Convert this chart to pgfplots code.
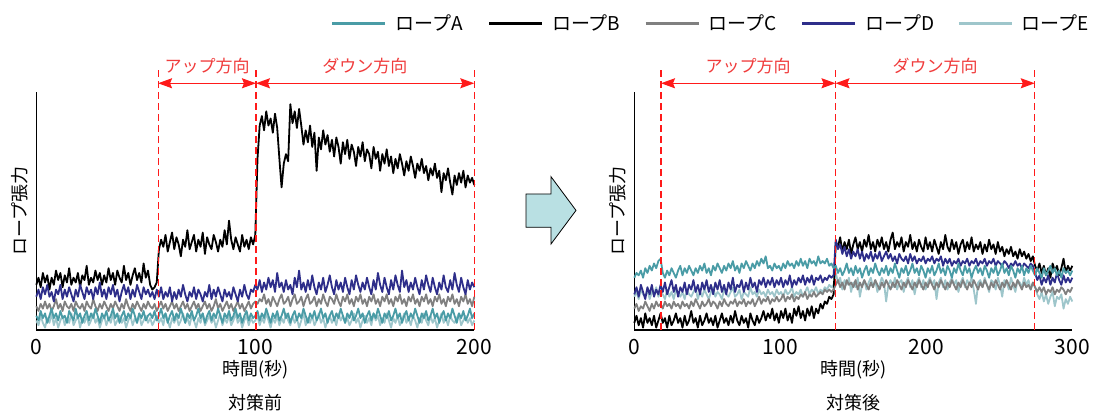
\documentclass[border=0pt]{standalone}
\usepackage{pgfplots}
\pgfplotsset{compat=1.18}
\usepackage{pgfplotstable}
\usepackage{fontspec}
\setmainfont{Noto Sans CJK JP}
\usetikzlibrary{arrows.meta}

\definecolor{ropeA}{HTML}{4A9CA6}
\definecolor{ropeB}{HTML}{000000}
\definecolor{ropeC}{HTML}{808080}
\definecolor{ropeD}{HTML}{2E2E8A}
\definecolor{ropeE}{HTML}{9EC6CB}
\definecolor{arrowfill}{HTML}{B9E0E3}
\definecolor{marker}{HTML}{FF1A1A}
\definecolor{labelred}{HTML}{F03C3C}

% before countermeasure (0-200 s)
\pgfplotstableread{
x A B C D E
0 6 19 10 14 4
1 4 22 8 17 2
2 8 18 11 13 6
3 5 24 9 18 3
4 7 20 12 15 1
5 3 23 9 19 5
6 6 17 11 14 3
7 9 22 8 16 7
8 5 19 10 12 2
9 7 25 13 17 5
10 4 21 9 15 1
11 8 24 11 19 4
12 5 18 8 13 6
13 6 23 12 17 2
14 3 20 10 14 5
15 8 26 9 18 3
16 6 19 11 15 7
17 4 22 8 12 2
18 9 20 12 17 4
19 5 24 10 14 6
20 7 18 9 19 1
21 3 23 11 16 5
22 6 21 8 13 3
23 8 27 12 18 6
24 4 19 10 15 2
25 7 22 9 17 4
26 5 20 13 13 7
27 9 25 10 18 3
28 6 21 8 15 5
29 3 24 11 20 1
30 7 19 9 14 4
31 5 23 12 17 6
32 8 20 10 13 2
33 4 26 8 18 5
34 6 21 11 15 3
35 9 24 9 19 7
36 5 19 12 14 2
37 7 25 10 17 4
38 3 22 8 12 6
39 6 20 11 16 3
40 8 27 9 19 5
41 4 21 13 15 1
42 7 24 10 18 4
43 5 19 8 13 6
44 9 23 11 17 2
45 6 26 9 14 5
46 3 21 12 19 3
47 7 24 10 16 7
48 5 20 8 13 2
49 8 28 11 18 4
50 4 22 9 15 6
51 6 25 12 17 3
52 7 19 10 14 5
53 5 17 9 16 2
54 8 18 11 13 4
55 4 20 8 17 6
56 6 34 10 14 3
57 9 38 12 18 5
58 5 35 9 13 2
59 7 40 11 16 7
60 3 33 8 14 4
61 6 37 10 18 1
62 8 41 12 12 5
63 4 34 9 16 3
64 7 39 11 13 6
65 5 36 8 17 2
66 9 31 10 14 4
67 6 38 12 19 7
68 3 35 9 15 3
69 7 42 11 12 5
70 5 34 8 16 2
71 8 37 10 14 6
72 4 40 12 18 4
73 6 33 9 13 1
74 9 38 11 17 5
75 5 35 8 15 3
76 7 41 10 12 7
77 3 32 12 16 2
78 6 39 9 14 4
79 8 36 11 19 6
80 4 34 8 13 3
81 7 40 10 17 5
82 5 37 13 14 1
83 9 33 9 18 4
84 6 38 11 15 7
85 3 35 8 12 2
86 7 42 10 17 5
87 5 36 12 14 3
88 8 46 9 16 6
89 4 38 11 13 2
90 6 34 8 18 4
91 9 39 10 15 7
92 5 36 12 12 3
93 7 33 9 17 5
94 3 40 11 14 1
95 6 35 8 19 4
96 8 38 10 15 6
97 4 34 12 13 2
98 7 39 9 17 5
99 5 36 11 16 3
100 6 40 12 19 4
101 8 72 11 17 6
102 4 86 13 21 2
103 7 90 12 16 5
104 5 84 15 20 3
105 9 92 11 17 7
106 6 86 13 22 4
107 3 89 10 18 1
108 7 83 14 21 5
109 5 91 12 16 3
110 8 85 10 24 6
111 4 72 13 18 2
112 6 60 15 20 5
113 9 70 11 16 3
114 5 74 12 21 7
115 7 71 14 17 4
116 3 95 10 19 2
117 6 87 13 15 6
118 8 92 15 22 3
119 4 85 11 18 5
120 7 93 12 25 1
121 5 86 14 17 4
122 9 78 10 20 7
123 6 84 13 16 2
124 3 79 15 21 5
125 7 86 11 17 3
126 5 77 12 23 6
127 8 83 14 18 2
128 4 67 10 15 4
129 6 81 13 20 7
130 9 76 11 17 3
131 5 84 15 22 5
132 7 78 12 16 1
133 3 82 10 19 4
134 6 75 14 23 6
135 8 80 13 18 3
136 4 73 11 15 5
137 7 81 15 21 2
138 5 77 12 17 7
139 9 70 10 20 4
140 6 79 14 16 6
141 3 74 12 22 3
142 7 80 15 18 5
143 5 72 11 15 2
144 8 78 13 21 4
145 4 75 10 17 7
146 6 69 14 23 3
147 9 77 12 19 5
148 5 73 15 16 1
149 7 79 11 20 4
150 3 71 13 17 6
151 6 76 10 22 3
152 8 74 14 18 5
153 4 68 12 15 2
154 7 77 15 21 7
155 5 72 11 17 4
156 9 75 13 24 6
157 6 67 10 19 2
158 3 74 14 16 5
159 7 70 12 22 3
160 5 76 15 18 7
161 8 69 11 15 4
162 4 73 13 21 1
163 6 66 10 17 5
164 9 72 14 23 3
165 5 68 12 19 6
166 7 74 15 16 2
167 3 70 11 25 4
168 6 65 13 18 7
169 8 71 10 21 3
170 4 67 14 16 5
171 7 73 12 20 2
172 5 69 15 17 6
173 9 64 11 22 4
174 6 70 13 18 1
175 3 67 10 15 5
176 7 72 14 21 3
177 5 66 12 17 7
178 8 69 15 23 4
179 4 63 11 19 2
180 6 68 13 16 6
181 9 65 10 22 3
182 5 70 14 18 5
183 7 64 12 15 1
184 3 67 15 20 4
185 6 58 11 17 7
186 8 66 13 23 3
187 4 63 10 18 5
188 7 68 14 16 2
189 5 62 12 21 6
190 9 57 15 17 4
191 6 65 11 24 3
192 3 61 13 19 5
193 7 66 10 16 7
194 5 62 14 22 2
195 8 67 12 18 4
196 4 60 15 15 6
197 6 65 11 21 3
198 9 62 13 17 5
199 5 64 10 20 2
200 7 61 14 18 4
}\before

% after countermeasure (0-300 s)
\pgfplotstableread{
x A B C D E
0 22 3 9 15 14
1.5 24 6 11 18 16
3 23 2 8 14 13
4.5 25 5 10 19 17
6 22 1 9 16 15
7.5 26 7 12 13 14
9 24 3 10 18 17
10.5 27 5 8 15 13
12 25 2 11 19 16
13.5 28 6 9 14 15
15 26 1 12 17 18
16.5 29 4 10 15 14
18 30 7 11 19 16
19.5 24 3 9 16 15
21 22 5 12 20 13
22.5 25 1 10 15 17
24 23 6 11 18 14
25.5 26 2 9 21 16
27 24 4 12 16 13
28.5 22 7 10 19 17
30 25 3 11 14 15
31.5 27 5 9 18 14
33 23 1 12 16 16
34.5 26 6 10 20 13
36 24 2 11 15 17
37.5 27 4 9 19 15
39 25 8 12 17 14
40.5 23 3 10 21 16
42 26 5 13 16 18
43.5 24 1 11 19 13
45 27 6 9 15 16
46.5 25 2 12 20 14
48 28 4 10 17 17
49.5 24 7 11 21 15
51 26 3 13 16 13
52.5 23 5 10 19 16
54 27 2 12 15 18
55.5 25 6 11 20 14
57 28 1 9 17 16
58.5 26 4 12 21 15
60 24 7 10 16 13
61.5 27 3 13 19 17
63 25 5 11 15 15
64.5 28 2 10 20 14
66 26 6 12 17 16
67.5 29 3 11 22 18
69 25 8 13 16 14
70.5 27 4 10 19 15
72 24 2 12 18 17
73.5 28 6 11 21 13
75 26 3 13 16 16
76.5 29 5 10 20 15
78 27 1 12 17 14
79.5 25 7 11 22 18
81 28 4 13 18 15
82.5 26 2 10 20 16
84 29 6 12 16 14
85.5 27 3 14 21 17
87 30 5 11 19 15
88.5 28 8 13 22 16
90 31 4 12 18 14
91.5 26 7 14 21 17
93 27 5 11 19 15
94.5 25 9 13 22 16
96 28 4 12 18 14
97.5 26 7 14 21 17
99 27 3 12 19 15
100.5 25 8 13 22 16
102 28 5 15 18 14
103.5 26 9 12 21 17
105 29 4 14 19 15
106.5 27 7 13 23 16
108 28 3 15 18 18
109.5 26 9 12 21 14
111 29 6 14 19 16
112.5 27 10 13 22 15
114 30 5 15 20 17
115.5 27 8 14 23 14
117 29 4 16 19 16
118.5 26 9 13 22 18
120 30 6 15 20 15
121.5 28 10 14 23 17
123 29 5 16 19 16
124.5 27 9 14 22 18
126 31 7 15 21 15
127.5 28 11 16 23 17
129 29 9 15 20 16
130.5 28 12 17 22 18
132 30 11 16 21 17
133.5 27 14 17 23 19
135 28 13 16 22 18
136.5 26 15 17 23 19
138 27 37 19 38 24
139.5 24 35 21 34 20
141 26 39 18 36 22
142.5 23 33 20 32 17
144 25 37 17 35 21
145.5 28 34 21 31 19
147 24 38 19 34 22
148.5 26 32 20 30 16
150 23 36 18 33 20
151.5 27 39 21 31 18
153 24 34 17 34 22
154.5 26 37 20 30 14
156 22 33 18 33 19
157.5 25 38 21 29 21
159 27 35 19 32 17
160.5 23 40 17 30 20
162 26 34 20 33 22
163.5 24 37 18 29 18
165 28 33 21 32 21
166.5 25 38 19 30 16
168 23 35 17 33 19
169.5 26 39 20 29 22
171 24 34 18 31 20
172.5 27 37 21 33 12
174 23 33 19 30 19
175.5 26 38 17 32 21
177 24 41 20 29 18
178.5 28 34 18 31 22
180 25 37 21 28 17
181.5 22 35 19 32 20
183 26 39 17 30 21
184.5 24 33 20 29 16
186 27 37 18 31 20
187.5 23 35 21 28 22
189 25 40 19 32 18
190.5 28 34 17 29 21
192 24 37 20 31 15
193.5 26 33 18 28 20
195 23 38 21 30 22
196.5 27 35 19 29 18
198 25 33 17 31 21
199.5 22 39 20 28 17
201 26 34 18 30 20
202.5 24 37 21 29 22
204 27 33 19 31 19
205.5 23 38 17 28 21
207 25 35 20 30 13
208.5 28 32 18 29 20
210 24 37 21 31 22
211.5 26 34 19 27 18
213 23 40 17 30 21
214.5 27 35 20 28 17
216 25 33 18 30 20
217.5 22 38 21 27 22
219 26 34 19 29 19
220.5 24 37 17 28 21
222 28 32 20 30 16
223.5 25 36 18 27 20
225 23 38 21 29 22
226.5 27 33 19 28 18
228 24 37 17 30 21
229.5 26 34 20 27 19
231 22 39 18 29 22
232.5 25 33 21 28 17
234 27 36 19 30 11
235.5 24 34 17 27 20
237 26 37 20 29 21
238.5 23 32 18 28 18
240 27 36 21 30 22
241.5 25 33 19 27 19
243 22 38 17 29 16
244.5 26 34 20 28 21
246 24 36 18 30 20
247.5 27 32 21 27 17
249 23 37 19 29 22
250.5 25 33 17 28 19
252 28 35 20 27 14
253.5 24 31 18 29 21
255 26 34 21 28 20
256.5 23 32 19 26 17
258 27 35 17 28 22
259.5 25 31 20 27 19
261 22 33 18 29 16
262.5 26 30 21 27 21
264 24 34 19 28 20
265.5 27 31 17 26 18
267 23 33 20 28 22
268.5 26 30 18 27 19
270 24 32 19 26 21
271.5 27 29 17 28 17
273 25 31 20 27 20
274.5 23 27 18 24 18
276 26 25 16 21 15
277.5 24 28 18 23 13
279 22 24 16 19 16
280.5 26 27 18 22 12
282 23 23 15 20 15
283.5 25 26 17 23 11
285 27 22 16 19 14
286.5 24 28 18 22 16
288 26 25 15 20 10
289.5 23 27 17 24 14
291 25 23 16 21 13
292.5 22 26 18 19 15
294 26 30 17 23 9
295.5 24 24 15 20 13
297 25 27 17 22 11
298.5 23 25 16 20 14
300 25 27 18 22 12
}\after

\tikzset{
  dashmark/.style={marker, line width=1.1pt, dash pattern=on 7pt off 4pt},
  spanarrow/.style={marker, line width=1.2pt, {Stealth[length=14pt,width=10pt,inset=2pt]}-{Stealth[length=14pt,width=10pt,inset=2pt]}},
  spanlabel/.style={labelred, font=\fontsize{17}{17}\selectfont},
}

\pgfplotsset{
  rope/.style={
    scale only axis, width=438pt, height=237.7pt,
    ymin=0, ymax=100, ytick=\empty,
    axis lines=left, axis line style={-, line width=1.2pt},
    major tick length=0pt,
    clip=false,
    /pgf/number format/assume math mode=true,
    xticklabel style={font=\fontsize{21}{21}\selectfont, anchor=center, yshift=-17.5pt},
    xlabel={時間(秒)},
    xlabel style={font=\fontsize{18}{18}\selectfont, at={(axis description cs:0.5,-0.166)}, anchor=center},
    ylabel={ロープ張力},
    ylabel style={font=\fontsize{18}{18}\selectfont, at={(axis description cs:-0.039,0.5)}, anchor=center},
    every axis plot/.append style={line width=1.8pt, line join=round, no markers},
  },
}

\begin{document}
\begin{tikzpicture}
\useasboundingbox (0pt,0pt) rectangle (1099pt,410pt);

\begin{axis}[rope, at={(36.3pt,80pt)}, anchor=south west,
  xmin=0, xmax=200, xtick={0,100,200}]
\addplot[ropeE] table[x=x, y=E] {\before};
\addplot[ropeB] table[x=x, y=B] {\before};
\addplot[ropeC] table[x=x, y=C] {\before};
\addplot[ropeD] table[x=x, y=D] {\before};
\addplot[ropeA] table[x=x, y=A] {\before};
\draw[dashmark] (55.6,0) -- (55.6,109.4);
\draw[dashmark] (100.3,0) -- (100.3,109.4);
\draw[dashmark] (200,0) -- (200,109.4);
\draw[spanarrow] (55.6,103.8) -- (100.3,103.8);
\draw[spanarrow] (100.3,103.8) -- (200,103.8);
\node[spanlabel] at (78,110.9) {アップ方向};
\node[spanlabel] at (150,110.9) {ダウン方向};
\node[font=\fontsize{18}{18}\selectfont] at (axis description cs:0.5,-0.305) {対策前};
\end{axis}

\draw[fill=arrowfill, line width=0.8pt, line join=miter]
  (526pt,216pt) -- (551pt,216pt) -- (551pt,233.3pt) -- (576pt,199.6pt)
  -- (551pt,166pt) -- (551pt,182.7pt) -- (526pt,182.7pt) -- cycle;

\begin{axis}[rope, at={(634.3pt,80pt)}, anchor=south west,
  xmin=0, xmax=300, xtick={0,100,200,300},
  legend columns=5,
  legend style={at={(axis description cs:-0.6926,1.290)}, anchor=west,
    draw=none, fill=none, inner sep=0pt, column sep=0pt,
    font=\fontsize{19}{19}\selectfont,
    nodes={inner sep=0pt, anchor=west}},
  legend image code/.code={\path[draw=none, fill=none] (0pt,-1pt) rectangle (63pt,1pt);
    \draw[#1, line width=2.6pt] (0pt,0pt) -- (53pt,0pt);}]
\addlegendimage{ropeA}\addlegendentry{\makebox[92.3pt][l]{ロープA}}
\addlegendimage{ropeB}\addlegendentry{\makebox[92.3pt][l]{ロープB}}
\addlegendimage{ropeC}\addlegendentry{\makebox[92.3pt][l]{ロープC}}
\addlegendimage{ropeD}\addlegendentry{\makebox[92.3pt][l]{ロープD}}
\addlegendimage{ropeE}\addlegendentry{\makebox[68pt][l]{ロープE}}
\addplot[ropeE, forget plot] table[x=x, y=E] {\after};
\addplot[ropeB, forget plot] table[x=x, y=B] {\after};
\addplot[ropeC, forget plot] table[x=x, y=C] {\after};
\addplot[ropeD, forget plot] table[x=x, y=D] {\after};
\addplot[ropeA, forget plot] table[x=x, y=A] {\after};
\draw[dashmark] (18.3,0) -- (18.3,109.4);
\draw[dashmark] (137.8,0) -- (137.8,109.4);
\draw[dashmark] (274.3,0) -- (274.3,109.4);
\draw[spanarrow] (18.3,103.8) -- (137.8,103.8);
\draw[spanarrow] (137.8,103.8) -- (274.3,103.8);
\node[spanlabel] at (78,110.9) {アップ方向};
\node[spanlabel] at (206,110.9) {ダウン方向};
\node[font=\fontsize{18}{18}\selectfont] at (axis description cs:0.5,-0.305) {対策後};
\end{axis}
\end{tikzpicture}
\end{document}
